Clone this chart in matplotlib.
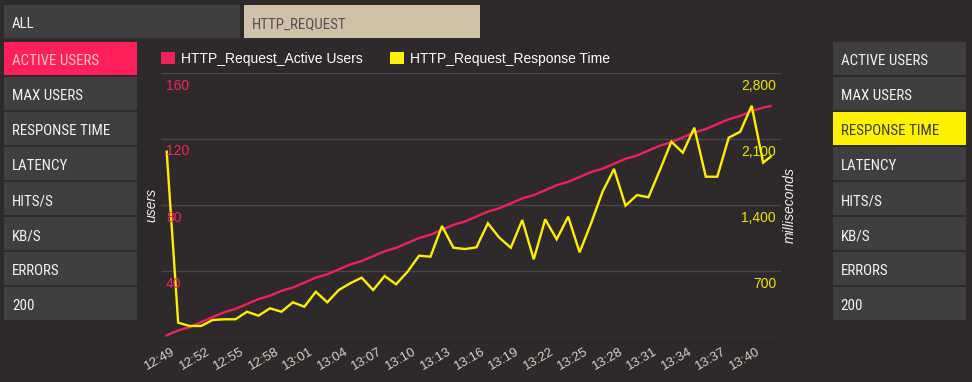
import matplotlib
matplotlib.use('Agg')
import matplotlib.pyplot as plt
from matplotlib import font_manager as fm
from matplotlib.patches import Rectangle, Patch
from matplotlib.transforms import offset_copy, blended_transform_factory

# ---------------- data ----------------
sample_times = ['12:49', '12:50', '12:51', '12:52', '12:53', '12:54', '12:55', '12:56',
                '12:57', '12:58', '12:59', '13:00', '13:01', '13:02', '13:03', '13:04',
                '13:05', '13:06', '13:07', '13:08', '13:09', '13:10', '13:11', '13:12',
                '13:13', '13:14', '13:15', '13:16', '13:17', '13:18', '13:19', '13:20',
                '13:21', '13:22', '13:23', '13:24', '13:25', '13:26', '13:27', '13:28',
                '13:29', '13:30', '13:31', '13:32', '13:33', '13:34', '13:35', '13:36',
                '13:37', '13:38', '13:39', '13:40', '13:41', '13:41:39']
active_users = [1, 4, 6, 9, 12, 15, 17, 20, 23, 25, 28, 30, 33, 36, 38, 41, 44, 46, 49, 52,
                54, 57, 60, 62, 65, 68, 70, 73, 76, 78, 81, 84, 86, 89, 92, 94, 97, 100, 102, 105,
                108, 110, 113, 116, 118, 121, 124, 126, 129, 132, 134, 137, 139, 140]
response_time = [1965, 152, 117, 117, 180, 188, 188, 268, 226, 304, 268, 368, 321, 480, 368,
                 498, 570, 629, 498, 647, 559, 693, 862, 852, 1177, 947, 933, 951, 1206, 1053,
                 947, 1241, 824, 1248, 1036, 1276, 898, 1206, 1541, 1782, 1393, 1506, 1482,
                 1771, 2071, 1955, 2220, 1700, 1700, 2114, 2177, 2453, 1849, 1912]
tick_labels = ['12:49', '12:52', '12:55', '12:58', '13:01', '13:04', '13:07', '13:10', '13:13',
               '13:16', '13:19', '13:22', '13:25', '13:28', '13:31', '13:34', '13:37', '13:40']
users_ticks = [40, 80, 120, 160]
ms_ticks = [700, 1400, 2100, 2800]
series_names = ['HTTP_Request_Active Users', 'HTTP_Request_Response Time']
top_buttons = ['ALL', 'HTTP_REQUEST']
left_buttons = ['ACTIVE USERS', 'MAX USERS', 'RESPONSE TIME', 'LATENCY', 'HITS/S', 'KB/S', 'ERRORS', '200']
right_buttons = ['ACTIVE USERS', 'MAX USERS', 'RESPONSE TIME', 'LATENCY', 'HITS/S', 'KB/S', 'ERRORS', '200']


def to_minutes(t, start='12:49'):
    parts = [int(p) for p in t.split(':')]
    sp = [int(p) for p in start.split(':')]
    m = parts[0] * 60 + parts[1] + (parts[2] / 60 if len(parts) > 2 else 0)
    return m - (sp[0] * 60 + sp[1])


xs = [to_minutes(t) for t in sample_times]
tick_pos = [to_minutes(t) for t in tick_labels]

# ---------------- style ----------------
BG = '#2e2a2c'
BTN = '#3f3f41'
PINK = '#ff1f5a'
YEL_BTN = '#fff200'
TAN = '#d1c1a8'
RED_LINE = '#f0215a'
YEL_LINE = '#ffee00'
RED_TXT = '#f5265e'
YEL_TXT = '#f0e400'

plt.rcParams['font.family'] = ['Liberation Sans', 'DejaVu Sans']

# condensed font for the buttons
btn_fp = None
cands = []
for f in fm.fontManager.ttflist:
    fn = f.fname.lower()
    if f.style != 'normal' or f.weight not in (400, 'normal', 'regular'):
        continue
    if ('narrow' in fn or 'condensed' in fn or f.stretch in ('condensed', 'semi-condensed')) \
            and 'bold' not in fn and 'italic' not in fn and 'oblique' not in fn and 'light' not in fn \
            and 'extra' not in fn and 'semi' not in fn:
        cands.append(f)
pref = ['liberation', 'roboto', 'opensans', 'open', 'noto', 'dejavu']
cands.sort(key=lambda f: next((i for i, p in enumerate(pref) if p in f.fname.lower()), 99))
if cands:
    btn_fp = fm.FontProperties(fname=cands[0].fname, size=10.8)
else:
    btn_fp = fm.FontProperties(family='DejaVu Sans', size=10.5)

W, H = 972, 382
fig = plt.figure(figsize=(W / 100, H / 100), dpi=100, facecolor=BG)

# overlay for buttons (pixel coordinates)
ov = fig.add_axes([0, 0, 1, 1], zorder=0)
ov.set_xlim(0, W)
ov.set_ylim(H, 0)
ov.axis('off')


def button(x, y, w, h, label, fc, tc):
    ov.add_patch(Rectangle((x, y), w, h, facecolor=fc, edgecolor='none'))
    ov.text(x + 8, y + h / 2 + 3, label, color=tc, fontproperties=btn_fp, va='center', ha='left')


button(4, 5, 236, 33, top_buttons[0], BTN, '#f2f2f2')
button(244, 5, 236, 33, top_buttons[1], TAN, '#505258')
for k, lab in enumerate(left_buttons):
    y = 41.7 + 35 * k
    if k == 0:
        button(4, y, 133, 33.3, lab, PINK, '#f6c4b8')
    else:
        button(4, y, 133, 33.3, lab, BTN, '#f2f2f2')
for k, lab in enumerate(right_buttons):
    y = 41.7 + 35 * k
    if lab == 'RESPONSE TIME':
        button(832.7, y, 133.3, 33.3, lab, YEL_BTN, '#3a3a3a')
    else:
        button(832.7, y, 133.3, 33.3, lab, BTN, '#f2f2f2')

# ---------------- chart ----------------
L, R, T, B = 161, 781, 73, 337
ax = fig.add_axes([L / W, 1 - B / H, (R - L) / W, (B - T) / H], facecolor='none', zorder=2)
ax2 = ax.twinx()
ax2.set_zorder(3)
ax2.patch.set_visible(False)

ax.plot(xs, active_users, color=RED_LINE, lw=1.7, solid_joinstyle='round')
ax2.plot(xs, response_time, color=YEL_LINE, lw=1.7, solid_joinstyle='miter')

step = 11.47
ax.set_xlim(-(166.7 - L) / step, (R - 166.7) / step)
ax.set_ylim(0, 160)
ax2.set_ylim(0, 2800)
ax.set_yticks([0] + users_ticks)
ax2.set_yticks([0] + ms_ticks)
ax.set_xticks(tick_pos)
ax.grid(axis='y', color='#4a4749', lw=1)
for a in (ax, ax2):
    a.tick_params(length=0, labelleft=False, labelright=False, labelbottom=False)
    for s in a.spines.values():
        s.set_visible(False)

# y tick labels inside the plot, below grid lines (drawn on top axes so nothing dims them)
tl = blended_transform_factory(ax2.transAxes, ax.transData)
for v in users_ticks:
    ax2.text(0, v, str(v), transform=offset_copy(tl, fig, x=5, y=-12.5, units='dots'),
             color=RED_TXT, fontsize=10, ha='left', va='center')
tr = blended_transform_factory(ax2.transAxes, ax2.transData)
for v in ms_ticks:
    ax2.text(1, v, f'{v:,}', transform=offset_copy(tr, fig, x=-5, y=-12.5, units='dots'),
             color=YEL_TXT, fontsize=10, ha='right', va='center')

# x tick labels, rotated
tb = blended_transform_factory(ax.transData, ax.transAxes)
for p, lab in zip(tick_pos, tick_labels):
    ax.text(p, 0, lab, transform=offset_copy(tb, fig, x=5, y=-9, units='dots'),
            color='#d6cfc4', fontsize=9.5, rotation=30, ha='right', va='top',
            rotation_mode='anchor', clip_on=False)

# axis titles
fig.text(151.7 / W, 1 - 205 / H, 'users', rotation=90, color='#eeeeee', fontsize=10,
         style='italic', ha='center', va='center')
fig.text(790 / W, 1 - 205 / H, 'milliseconds', rotation=90, color='#eeeeee', fontsize=10,
         style='italic', ha='center', va='center')

# legend
handles = [Patch(facecolor=RED_LINE, edgecolor='none'), Patch(facecolor=YEL_BTN, edgecolor='none')]
fig.legend(handles, series_names, ncol=2, frameon=False, fontsize=10, labelcolor='white',
           handlelength=1.0, handleheight=1.0, handletextpad=0.43, columnspacing=1.95,
           borderpad=0, borderaxespad=0, loc='center left',
           bbox_to_anchor=(L / W, 1 - 59 / H), bbox_transform=fig.transFigure)

fig.savefig('out.png', dpi=100, facecolor=BG)
